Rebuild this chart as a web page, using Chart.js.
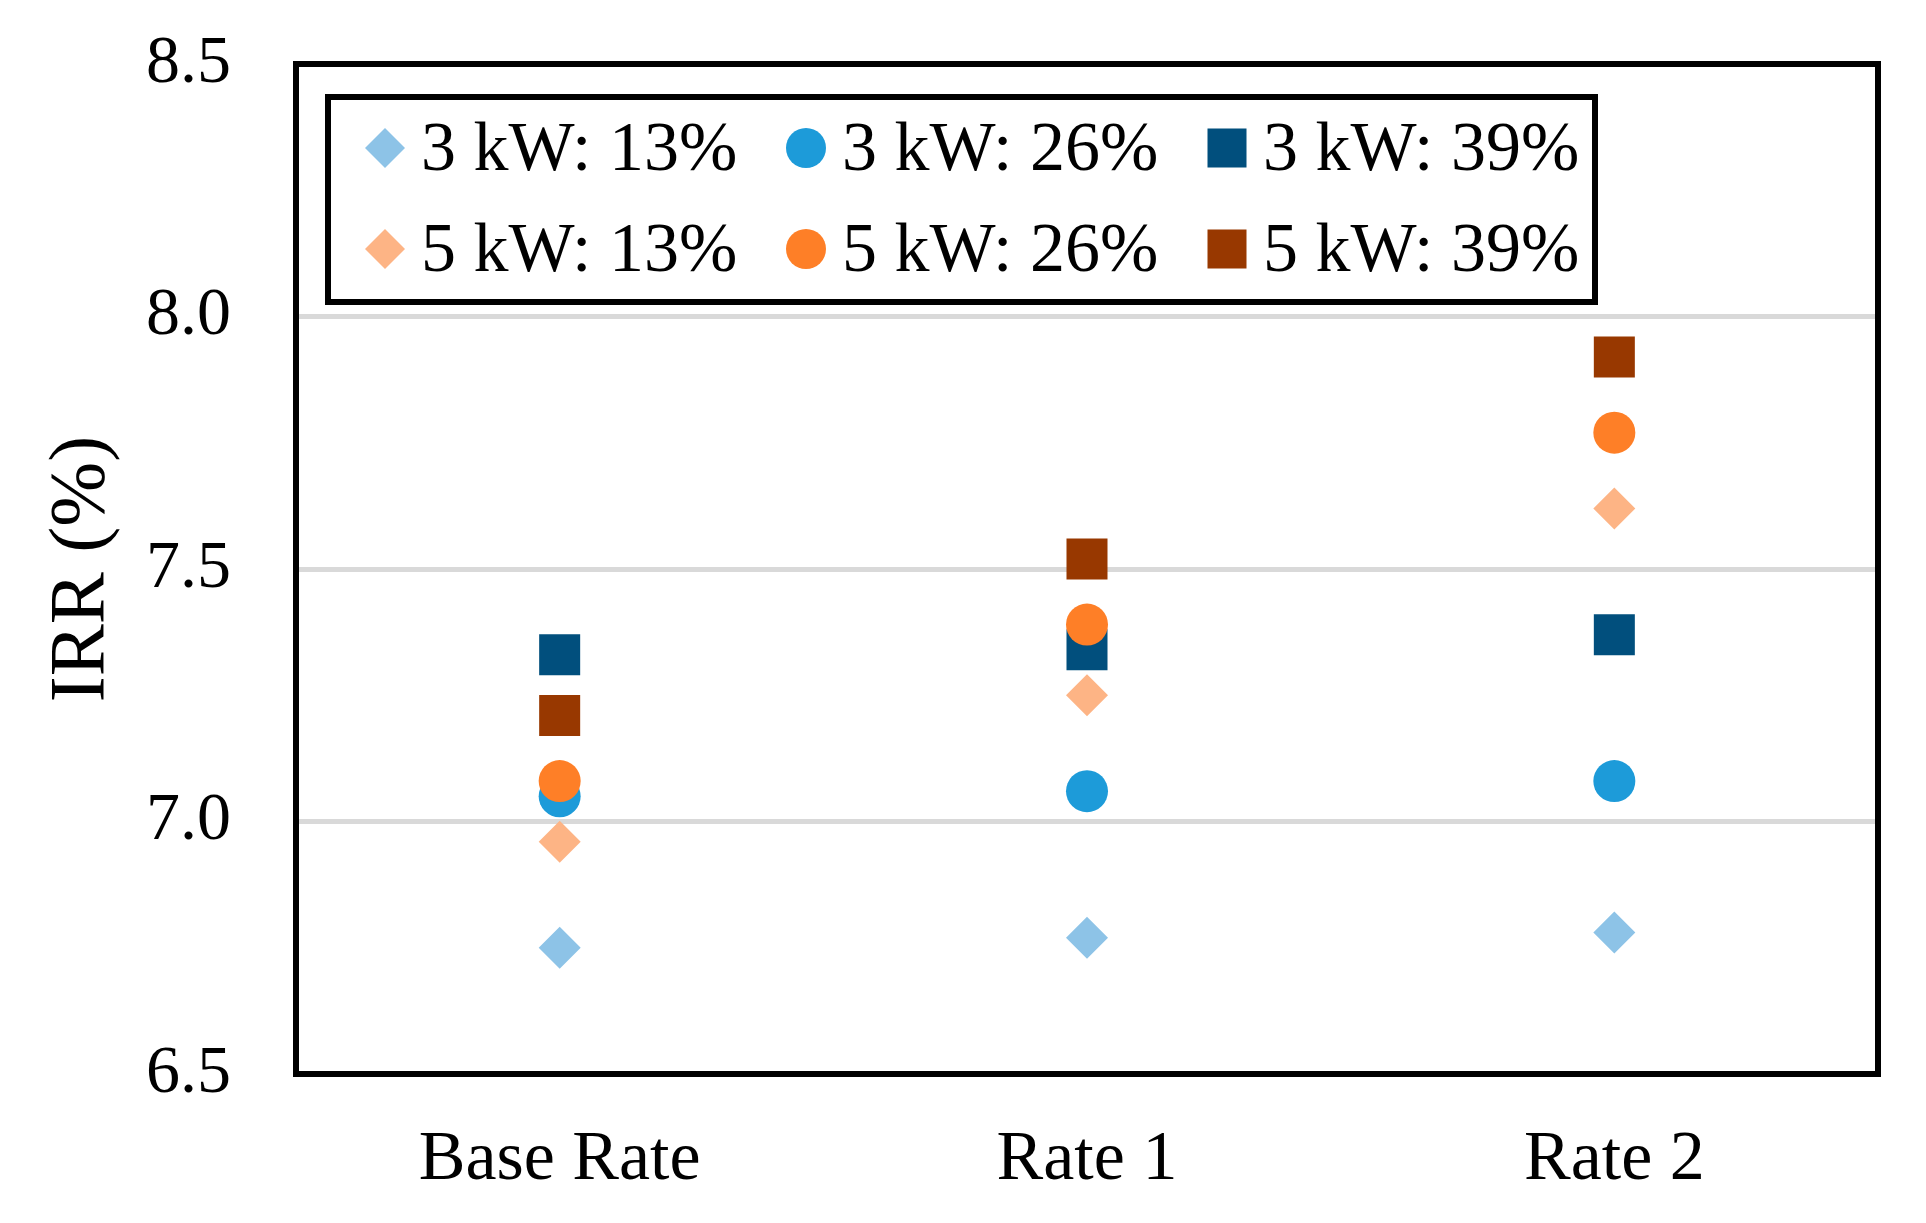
<!DOCTYPE html>
<html>
<head>
<meta charset="utf-8">
<script src="https://cdn.jsdelivr.net/npm/chart.js"></script>
<style>
  html, body { margin: 0; padding: 0; background: #fff; }
  #wrap { width: 1926px; height: 1223px; }
</style>
</head>
<body>
<div id="wrap"><canvas id="grafico" width="1926" height="1223"></canvas></div>
<script>
// Dados
const categorias = ['Base Rate', 'Rate 1', 'Rate 2'];
const rotulos = ['3 kW: 13%', '3 kW: 26%', '3 kW: 39%', '5 kW: 13%', '5 kW: 26%', '5 kW: 39%'];
const kw3_13 = [6.75, 6.77, 6.78];
const kw3_26 = [7.05, 7.06, 7.08];
const kw3_39 = [7.33, 7.34, 7.37];
const kw5_13 = [6.96, 7.25, 7.62];
const kw5_26 = [7.08, 7.39, 7.77];
const kw5_39 = [7.21, 7.52, 7.92];
const yTicks = [6.5, 7.0, 7.5, 8.0, 8.5];

const series = [kw3_13, kw3_26, kw3_39, kw5_13, kw5_26, kw5_39];
const cores = ['#8dc3e7', '#1d9bd9', '#014f7d', '#fdb485', '#fe7f27', '#983800'];
const estilos = ['rectRot', 'circle', 'rect', 'rectRot', 'circle', 'rect'];
const raios = { rectRot: 21, circle: 21, rect: 29 };

const FONTE = '"Liberation Serif", "Times New Roman", serif';

function desenharMarcador(ctx, estilo, cor, x, y) {
  ctx.fillStyle = cor;
  ctx.beginPath();
  if (estilo === 'circle') {
    ctx.arc(x, y, 20, 0, Math.PI * 2);
  } else if (estilo === 'rect') {
    ctx.rect(x - 19.5, y - 19.5, 39, 39);
  } else {
    ctx.moveTo(x - 20, y);
    ctx.lineTo(x, y - 20);
    ctx.lineTo(x + 20, y);
    ctx.lineTo(x, y + 20);
    ctx.closePath();
  }
  ctx.fill();
}

// Moldura da área do gráfico + legenda em caixa
const molduraLegenda = {
  id: 'molduraLegenda',
  afterDraw(chart) {
    const { ctx, chartArea: a } = chart;
    ctx.save();
    ctx.lineWidth = 6;
    ctx.strokeStyle = '#000';
    ctx.strokeRect(a.left, a.top, a.right - a.left, a.bottom - a.top);

    const x0 = a.left + 32, y0 = a.top + 33, w = 1267, h = 205;
    ctx.fillStyle = '#fff';
    ctx.fillRect(x0, y0, w, h);
    ctx.strokeRect(x0, y0, w, h);

    ctx.font = '70px ' + FONTE;
    ctx.textBaseline = 'alphabetic';
    ctx.textAlign = 'left';
    chart.data.datasets.forEach((ds, i) => {
      const col = i % 3, lin = Math.floor(i / 3);
      const mx = x0 + 57 + col * 421;
      const my = y0 + 51 + lin * 101;
      desenharMarcador(ctx, ds.pointStyle, ds.backgroundColor, mx, my);
      ctx.fillStyle = '#000';
      ctx.fillText(ds.label, mx + 36, my + 22);
    });
    ctx.restore();
  }
};

const config = {
  type: 'line',
  data: {
    labels: categorias,
    datasets: series.map((s, i) => ({
      label: rotulos[i],
      data: s,
      showLine: false,
      pointStyle: estilos[i],
      pointRadius: raios[estilos[i]],
      pointHoverRadius: raios[estilos[i]],
      backgroundColor: cores[i],
      borderColor: cores[i],
      pointBorderWidth: 0,
      order: 6 - i
    }))
  },
  options: {
    responsive: false,
    animation: false,
    devicePixelRatio: 1,
    layout: { padding: { top: 64, right: 48, left: 0, bottom: 0 } },
    plugins: {
      legend: { display: false },
      tooltip: { enabled: false }
    },
    scales: {
      x: {
        offset: true,
        grid: { display: false, drawTicks: false },
        border: { display: false },
        ticks: { color: '#000', font: { family: FONTE, size: 70 }, padding: 45 },
        afterFit(axis) { axis.height = 149; }
      },
      y: {
        min: yTicks[0],
        max: yTicks[yTicks.length - 1],
        afterBuildTicks(axis) { axis.ticks = yTicks.map(v => ({ value: v })); },
        grid: { color: '#d9d9d9', lineWidth: 5, drawTicks: false },
        border: { display: false },
        ticks: {
          color: '#000',
          font: { family: FONTE, size: 68 },
          padding: 65,
          callback: v => Number(v).toFixed(1)
        },
        title: {
          display: true,
          text: 'IRR (%)',
          color: '#000',
          font: { family: FONTE, size: 78 },
          padding: { top: 36, bottom: 0 }
        },
        afterFit(axis) {
          axis.width = 296;
          axis.paddingTop = 0;
          axis.paddingBottom = 0;
        }
      }
    }
  },
  plugins: [molduraLegenda]
};

new Chart(document.getElementById('grafico'), config);
</script>
</body>
</html>
